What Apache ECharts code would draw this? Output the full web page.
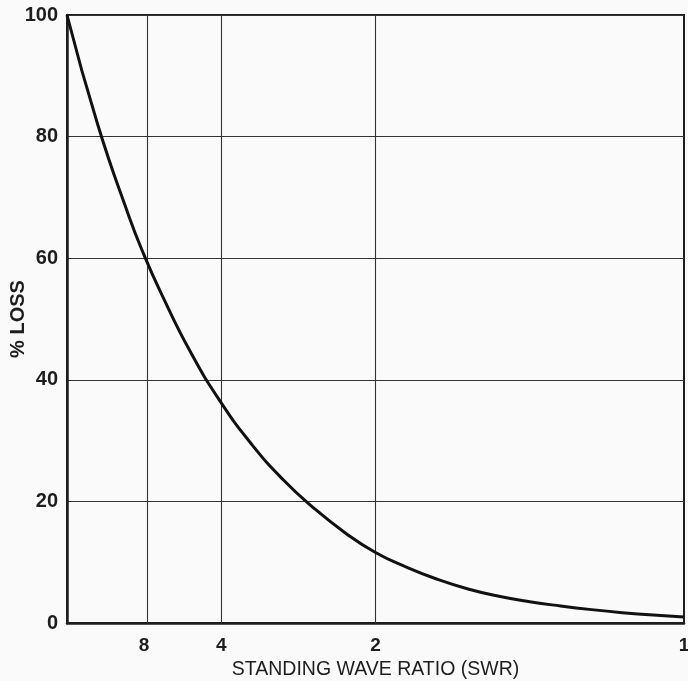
<!DOCTYPE html>
<html><head><meta charset="utf-8">
<script src="https://cdn.jsdelivr.net/npm/echarts@6/dist/echarts.min.js"></script>
<style>html,body{margin:0;padding:0;background:#fafafa}#c{width:688px;height:681px}</style>
</head><body><div id="c"></div>
<script>
// Tick labels
const swrTicks = [8, 4, 2, 1];
const yTicks = [0, 20, 40, 60, 80, 100];
// Curve: x position is 1/SWR (0 at left, 1 at right)
const invSwr = [0, 0.05, 0.1, 0.125, 0.15, 0.2, 0.25, 0.3, 0.35, 0.4, 0.45, 0.5, 0.55, 0.6, 0.65, 0.7, 0.75, 0.8, 0.85, 0.9, 0.95, 1.0];
const lossPct = [100, 81.9, 67.0, 60.5, 54.8, 44.6, 36.2, 29.3, 23.6, 18.9, 14.9, 11.6, 9.2, 7.2, 5.6, 4.4, 3.5, 2.8, 2.2, 1.7, 1.3, 1.0];

const chart = echarts.init(document.getElementById('c'));
const ink = '#1e1e1e';
chart.setOption({
  backgroundColor: '#fafafa',
  animation: false,
  grid: { left: 67, right: 4, top: 15, bottom: 58, outerBoundsMode: 'none', containLabel: false,
          show: true, borderColor: ink, borderWidth: 2, backgroundColor: 'transparent' },
  xAxis: {
    type: 'value', min: 0, max: 1,
    axisLine: { show: true, lineStyle: { color: ink, width: 2.5 } },
    axisTick: { show: false },
    splitLine: { show: false },
    axisLabel: {
      customValues: swrTicks.map(s => 1 / s),
      formatter: v => String(Math.round(1 / v)),
      color: ink, fontFamily: 'Liberation Sans', fontWeight: 'bold', fontSize: 19, margin: 13
    },
    name: 'STANDING WAVE RATIO (SWR)', nameLocation: 'middle', nameGap: 37, nameMoveOverlap: false,
    nameTextStyle: { color: ink, fontFamily: 'Liberation Sans', fontSize: 19.5 }
  },
  yAxis: {
    type: 'value', min: 0, max: 100, interval: 20,
    axisLine: { show: true, lineStyle: { color: ink, width: 2.5 } },
    axisTick: { show: false },
    splitLine: { show: true, lineStyle: { color: '#333', width: 1.1 } },
    axisLabel: {
      customValues: yTicks,
      color: ink, fontFamily: 'Liberation Sans', fontWeight: 'bold', fontSize: 20, margin: 9
    },
    name: '% LOSS', nameLocation: 'middle', nameGap: 39, nameRotate: 90, nameMoveOverlap: false,
    nameTextStyle: { color: ink, fontFamily: 'Liberation Sans', fontWeight: 'bold', fontSize: 20 }
  },
  series: [{
    type: 'line', smooth: true, symbol: 'none',
    data: invSwr.map((u, i) => [u, lossPct[i]]),
    lineStyle: { color: '#111', width: 3 },
    markLine: {
      silent: true, symbol: 'none', label: { show: false },
      lineStyle: { color: '#333', width: 1.1, type: 'solid' },
      data: swrTicks.slice(0, 3).map(s => ({ xAxis: 1 / s }))
    },
    z: 5
  }]
});
</script></body></html>
